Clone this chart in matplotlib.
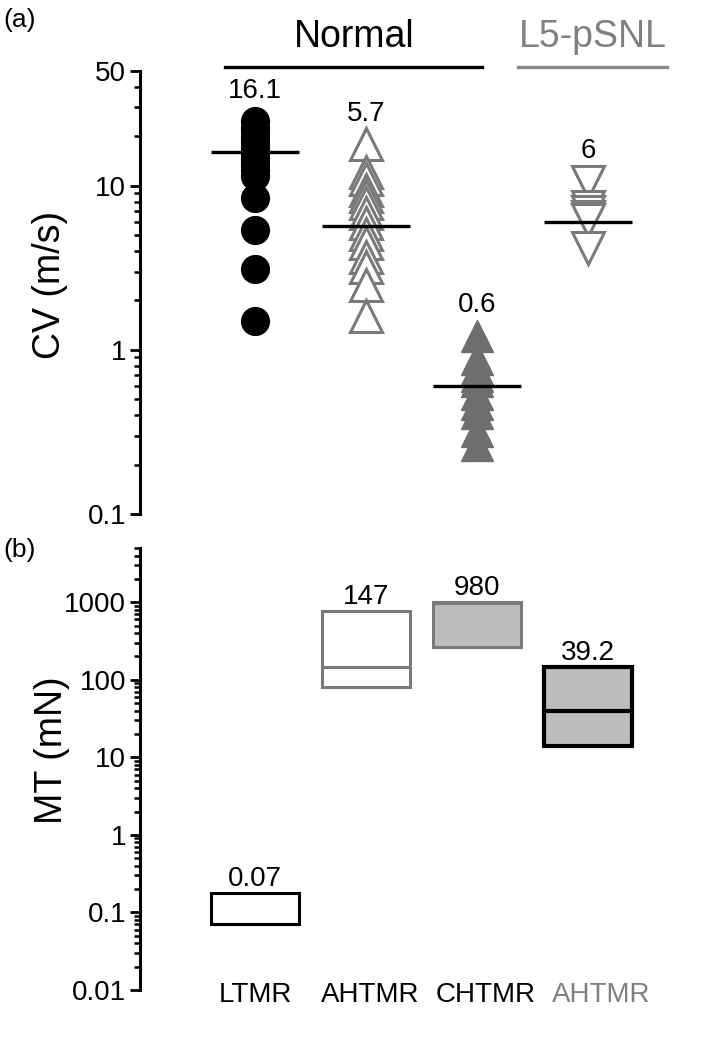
import numpy as np
import matplotlib
matplotlib.use('Agg')
import matplotlib.pyplot as plt
from matplotlib.ticker import LogLocator, FixedLocator, NullFormatter

plt.rcParams['font.family'] = ['Liberation Sans', 'DejaVu Sans']

# ---- data ----
groups = ['LTMR', 'AHTMR', 'CHTMR', 'AHTMR']
group_colors = ['black', 'black', 'black', '#808080']

cv_ltmr = [24.7, 22.5, 21.1, 19.5, 18.4, 17.0, 15.9, 14.8, 14.0, 13.2, 12.5, 11.5, 8.4, 5.4, 3.1, 1.5]
cv_ahtmr = [17.9, 12.2, 11.0, 9.4, 8.6, 7.9, 6.8, 5.9, 5.1, 4.5, 3.7, 3.2, 2.5, 1.6]
cv_chtmr = [1.22, 0.88, 0.76, 0.69, 0.65, 0.54, 0.47, 0.41, 0.32, 0.265]
cv_pshtmr = [10.6, 7.4, 6.9, 6.45, 6.2, 4.2]
cv_means = [16.1, 5.7, 0.6, 6]

mt_low = [0.07, 80, 262, 13.8]
mt_high = [0.18, 770, 1000, 147]
mt_med = [0.07, 147, 980, 39.2]
mt_labels = ['0.07', '147', '980', '39.2']
mt_face = ['white', 'white', '#bdbdbd', '#bdbdbd']
mt_edge = ['black', '#7a7a7a', '#7a7a7a', 'black']
mt_lw = [2.2, 2.2, 2.2, 3.0]

pos = np.arange(1, 5)
grey = '#7a7a7a'

fig = plt.figure(figsize=(7.04, 10.37), dpi=100)
ax1 = fig.add_axes([140/704, 1-514/1037, 550/704, 443/1037])
ax2 = fig.add_axes([140/704, 1-990/1037, 550/704, 442/1037])

for ax in (ax1, ax2):
    for s in ('top', 'right', 'bottom'):
        ax.spines[s].set_visible(False)
    ax.spines['left'].set_linewidth(2.2)
    ax.set_yscale('log')
    ax.set_xlim(-0.036, 4.92)
    ax.set_xticks([])
    ax.tick_params(axis='y', which='major', length=7, width=2, labelsize=20, pad=3)
    ax.tick_params(axis='y', which='minor', length=4, width=1.8)
    ax.patch.set_alpha(0)

# ---- panel a ----
ax1.set_ylim(0.1, 50)
ax1.yaxis.set_major_locator(FixedLocator([0.1, 1, 10, 50]))
ax1.set_yticklabels(['0.1', '1', '10', '50'])
ax1.yaxis.set_minor_locator(LogLocator(base=10, subs=np.arange(2, 10)))
ax1.yaxis.set_minor_formatter(NullFormatter())

ax1.plot([pos[0]] * len(cv_ltmr), cv_ltmr, 'o', ms=20, color='black', ls='none', clip_on=False)
ax1.plot([pos[1]] * len(cv_ahtmr), cv_ahtmr, '^', ms=23, mfc='white', mec=grey, mew=2.2, ls='none', clip_on=False)
ax1.plot([pos[2]] * len(cv_chtmr), cv_chtmr, '^', ms=23, color='#6e6e6e', ls='none', clip_on=False)
ax1.plot([pos[3]] * len(cv_pshtmr), cv_pshtmr, 'v', ms=23, mfc='white', mec=grey, mew=2.2, ls='none', clip_on=False)
ax1.hlines(cv_means, pos - 0.4, pos + 0.4, color='black', lw=2.4, zorder=5)

cv_max = [max(cv_ltmr), max(cv_ahtmr), max(cv_chtmr), max(cv_pshtmr)]
for x, m, top in zip(pos, cv_means, cv_max):
    ax1.annotate(f'{m:g}', (x, top), xytext=(0, 17), textcoords='offset points',
                 ha='center', va='baseline', fontsize=20)

# group headers
tr = ax1.get_xaxis_transform()
ax1.plot([0.73, 3.05], [1.009, 1.009], color='black', lw=2.4, transform=tr, clip_on=False)
ax1.plot([3.37, 4.71], [1.009, 1.009], color='#8a8a8a', lw=2.4, transform=tr, clip_on=False)
ax1.text(1.89, 1.077, 'Normal', transform=tr, ha='center', va='center', fontsize=27)
ax1.text(4.04, 1.077, 'L5-pSNL', transform=tr, ha='center', va='center', fontsize=27, color='#808080')

# ---- panel b ----
ax2.set_ylim(0.01, 5000)
ax2.yaxis.set_major_locator(FixedLocator([0.01, 0.1, 1, 10, 100, 1000]))
ax2.set_yticklabels(['0.01', '0.1', '1', '10', '100', '1000'])
ax2.yaxis.set_minor_locator(LogLocator(base=10, subs=np.arange(2, 10)))
ax2.yaxis.set_minor_formatter(NullFormatter())

heights = np.array(mt_high) - np.array(mt_low)
ax2.bar(pos, heights, bottom=mt_low, width=0.8, color=mt_face, edgecolor=mt_edge, linewidth=mt_lw)
for x, med, ec, lw in zip(pos, mt_med, mt_edge, mt_lw):
    ax2.hlines(med, x - 0.4, x + 0.4, color=ec, lw=lw)
for x, top, lab in zip(pos, mt_high, mt_labels):
    ax2.annotate(lab, (x, top), xytext=(0, 5), textcoords='offset points',
                 ha='center', va='baseline', fontsize=20)

tr2 = ax2.get_xaxis_transform()
for x, g, c in zip(pos, groups, group_colors):
    ax2.text(x + 0.04 * (x - 1), -0.012, g, transform=tr2, ha='center', va='center', fontsize=20, color=c)

fig.text(50/704, 1-285/1037, 'CV (m/s)', rotation=90, ha='center', va='center', fontsize=27)
fig.text(52/704, 1-750/1037, 'MT (mN)', rotation=90, ha='center', va='center', fontsize=27)
fig.text(3/704, 1-20/1037, '(a)', ha='left', va='center', fontsize=19)
fig.text(3/704, 1-550/1037, '(b)', ha='left', va='center', fontsize=19)

fig.savefig('out.png', dpi=100)
